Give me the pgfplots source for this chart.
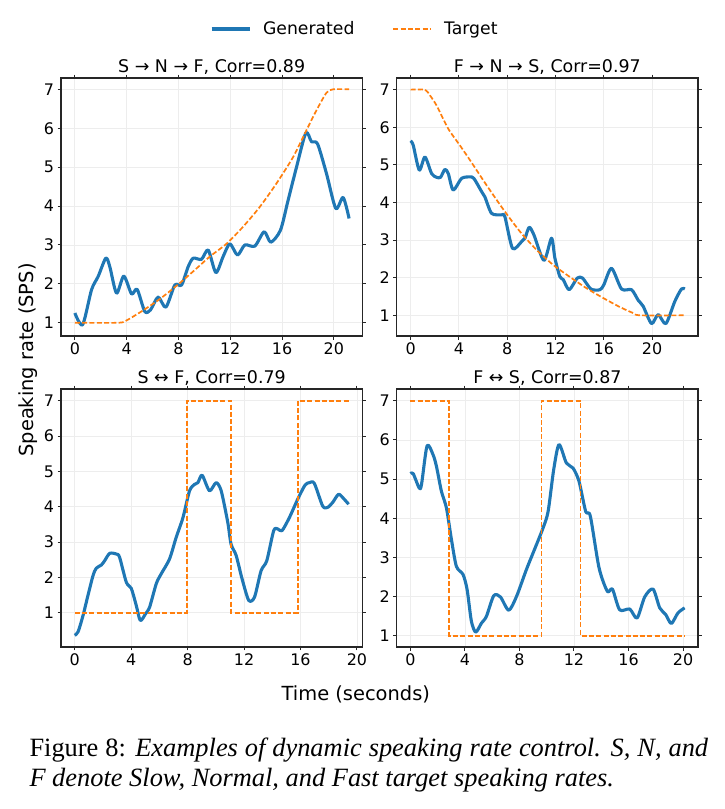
\documentclass[border=0pt]{standalone}
\usepackage{pgfplots}
\pgfplotsset{compat=1.18}
\usepackage{fontspec}
\setmainfont{DejaVu Sans}
\newfontfamily\capfont{Liberation Serif}

\definecolor{genblue}{RGB}{31,119,180}
\definecolor{tgtorange}{RGB}{255,127,14}

\pgfplotsset{
  panel/.style={
    scale only axis, width=301.3bp, height=258bp,
    anchor=north west,
    axis line style={line width=1.3bp, black!85},
    tick align=outside, major tick length=3.5bp,
    tick style={line width=1bp, black!85},
    xtick={0,4,...,20}, ytick={1,...,7},
    grid=major, grid style={line width=0.8bp, black!7},
    tick label style={font=\fontsize{16}{19}\selectfont},
    /pgf/number format/assume math mode=true,
    legend image code/.code={\draw[##1] (0bp,0bp) -- (38bp,0bp); \path (48bp,0bp);},
  },
  gen/.style={color=genblue, line width=3.1bp, smooth, tension=0.45, line join=round},
  tgt/.style={color=tgtorange, line width=1.7bp, dash pattern=on 5bp off 2.3bp},
}

\begin{document}
\begin{tikzpicture}
\useasboundingbox (0,0) rectangle (725bp,-809bp);

% ---------- S -> N -> F ----------
\begin{axis}[panel, name=p1, at={(61bp,-78bp)},
  xmin=-1.07, xmax=22.2, ymin=0.66, ymax=7.29,
  legend columns=2,
  legend style={at={(0.975,1.19)}, anchor=center, draw=none, fill=none,
    font=\fontsize{17.3}{20}\selectfont,
    /tikz/every even column/.append style={column sep=36bp}},
]
\addplot[gen] coordinates {
(0,1.25) (0.6,0.95) (1.29,1.85) (1.8,2.19) (2.39,2.66) (2.7,2.44) (3.22,1.76)
(3.78,2.2) (4.38,1.74) (4.81,1.86) (5.4,1.29) (5.84,1.33) (6.43,1.66) (7.03,1.4)
(7.72,1.97) (8.24,1.97) (8.75,2.44) (9.14,2.66) (9.78,2.63) (10.3,2.87) (10.89,2.29)
(11.45,2.7) (11.97,3.03) (12.56,2.74) (13.13,3.0) (13.9,2.97) (14.62,3.34) (15.13,3.07)
(15.88,3.38) (16.47,4.15) (17.12,5.0) (17.84,5.88) (18.28,5.65) (18.74,5.6) (19.43,4.84)
(20.15,3.94) (20.72,4.22) (21.18,3.68)};
\addlegendentry{Generated}
\addplot[tgt, smooth, tension=0.4] coordinates {
(0,1) (3.35,1) (3.99,1.06) (5.28,1.32) (6.56,1.61) (7.85,1.95) (9.14,2.32)
(10.42,2.70) (11.71,3.03) (13.0,3.47) (14.29,3.98) (15.57,4.58) (16.86,5.26)
(17.89,5.95) (18.66,6.46) (19.43,6.91) (19.95,7.0) (21.18,7.0)};
\addlegendentry{Target}
\end{axis}

% ---------- F -> N -> S ----------
\begin{axis}[panel, name=p2, at={(396.7bp,-78bp)},
  xmin=-1.15, xmax=23.8, ymin=0.45, ymax=7.31]
\addplot[gen] coordinates {
(0,5.64) (0.22,5.52) (0.72,4.86) (1.19,5.21) (1.74,4.77) (2.15,4.67) (2.48,4.67)
(2.84,4.88) (3.12,4.77) (3.53,4.33) (4.22,4.64) (4.91,4.68) (5.24,4.64) (5.88,4.29)
(6.15,4.15) (6.71,3.71) (7.53,3.67) (7.81,3.62) (8.44,2.78) (9.19,2.96) (9.47,3.05)
(9.82,3.34) (10.21,3.14) (11.04,2.46) (11.67,3.05) (11.95,2.52) (12.36,2.03)
(12.64,1.95) (13.13,1.68) (13.8,1.99) (14.24,1.99) (14.93,1.70) (15.67,1.68)
(16.0,1.81) (16.64,2.25) (17.47,1.70) (18.3,1.68) (18.85,1.40) (19.26,1.24)
(19.95,0.78) (20.5,1.02) (21.14,0.78) (21.88,1.37) (22.43,1.70) (22.71,1.70)};
\addplot[tgt, smooth, tension=0.4] coordinates {
(0,7) (1.19,7) (1.6,6.85) (2.15,6.58) (3.12,5.96) (4.08,5.52) (4.91,5.13)
(6.29,4.46) (7.67,3.82) (9.05,3.23) (10.43,2.74) (11.81,2.34) (13.19,2.02)
(14.57,1.72) (15.95,1.46) (17.33,1.22) (18.43,1.06) (18.98,1.0) (22.71,1.0)};
\end{axis}

% ---------- S <-> F ----------
\begin{axis}[panel, name=p3, at={(61bp,-389bp)},
  xmin=-0.97, xmax=20.38, ymin=0.03, ymax=7.33]
\addplot[gen] coordinates {
(0,0.36) (0.24,0.46) (0.59,0.92) (0.94,1.49) (1.3,2.05) (1.53,2.26) (1.89,2.35)
(2.12,2.47) (2.48,2.68) (2.95,2.66) (3.18,2.57) (3.66,1.86) (4.01,1.69) (4.36,1.21)
(4.65,0.78) (5.02,0.97) (5.31,1.16) (5.78,1.82) (6.13,2.1) (6.72,2.52) (7.19,3.13)
(7.67,3.69) (8.14,4.45) (8.49,4.63) (8.73,4.68) (9.03,4.89) (9.55,4.45) (10.02,4.68)
(10.38,4.45) (10.85,3.55) (11.08,2.94) (11.44,2.62) (11.86,1.96) (12.33,1.35)
(12.74,1.44) (13.21,2.19) (13.61,2.47) (14.1,3.32) (14.39,3.37) (14.69,3.32)
(15.21,3.69) (15.8,4.21) (16.32,4.61) (16.63,4.68) (16.98,4.66) (17.57,4.02)
(17.92,3.98) (18.28,4.12) (18.7,4.35) (19.1,4.21) (19.41,4.07)};
\addplot[tgt] coordinates {
(0,1) (7.95,1) (7.95,7) (11.08,7) (11.08,1) (15.8,1) (15.8,7) (19.41,7)};
\end{axis}

% ---------- F <-> S ----------
\begin{axis}[panel, name=p4, at={(396.7bp,-389bp)},
  xmin=-1.01, xmax=21.1, ymin=0.71, ymax=7.3]
\addplot[gen] coordinates {
(0,5.14) (0.2,5.14) (0.64,4.77) (0.81,4.86) (1.22,5.85) (1.66,5.62) (1.91,5.32)
(2.27,4.69) (2.64,4.26) (3.01,3.45) (3.37,2.77) (3.86,2.56) (4.16,2.17) (4.47,1.37)
(4.79,1.09) (5.21,1.32) (5.57,1.49) (6.11,2.02) (6.6,1.99) (7.21,1.65) (7.78,2.0)
(8.51,2.69) (9.24,3.32) (9.73,3.75) (10.1,4.17) (10.51,5.24) (10.9,5.88) (11.44,5.41)
(11.93,5.28) (12.37,4.94) (12.86,4.17) (13.2,4.05) (13.84,2.73) (14.45,2.13)
(14.82,2.19) (15.35,1.66) (16.09,1.68) (16.63,1.45) (17.19,1.99) (17.8,2.19)
(18.29,1.71) (18.73,1.54) (19.14,1.31) (19.63,1.58) (20.12,1.71)};
\addplot[tgt] coordinates {
(0,7) (2.84,7) (2.84,1) (9.61,1) (9.61,7) (12.47,7) (12.47,1) (20.12,1)};
\end{axis}

% panel titles
\begin{scope}[every node/.style={anchor=base, inner sep=0pt, font=\fontsize{17.5}{21}\selectfont}]
\node at ([yshift=5.3bp]p1.north) {S → N → F, Corr=0.89};
\node at ([yshift=5.3bp]p2.north) {F → N → S, Corr=0.97};
\node at ([yshift=5.3bp]p3.north) {S ↔ F, Corr=0.79};
\node at ([yshift=5.3bp]p4.north) {F ↔ S, Corr=0.87};
\end{scope}

% shared axis labels
\node[rotate=90, anchor=base, inner sep=0pt, font=\fontsize{19.5}{23}\selectfont]
  at (33bp,-360bp) {Speaking rate (SPS)};
\node[anchor=base, inner sep=0pt, font=\fontsize{19.5}{23}\selectfont]
  at (355.8bp,-700bp) {Time (seconds)};

% caption
\begin{scope}[every node/.style={anchor=base west, inner sep=0pt,
    font=\capfont\fontsize{26.5}{30}\selectfont}]
\node at (29.3bp,-756.7bp) {\makebox[678.7bp][s]{Figure 8: \textit{Examples of dynamic speaking rate control. S, N, and}}};
\node at (29.3bp,-786.7bp) {\textit{F denote Slow, Normal, and Fast target speaking rates.}};
\end{scope}
\end{tikzpicture}
\end{document}
